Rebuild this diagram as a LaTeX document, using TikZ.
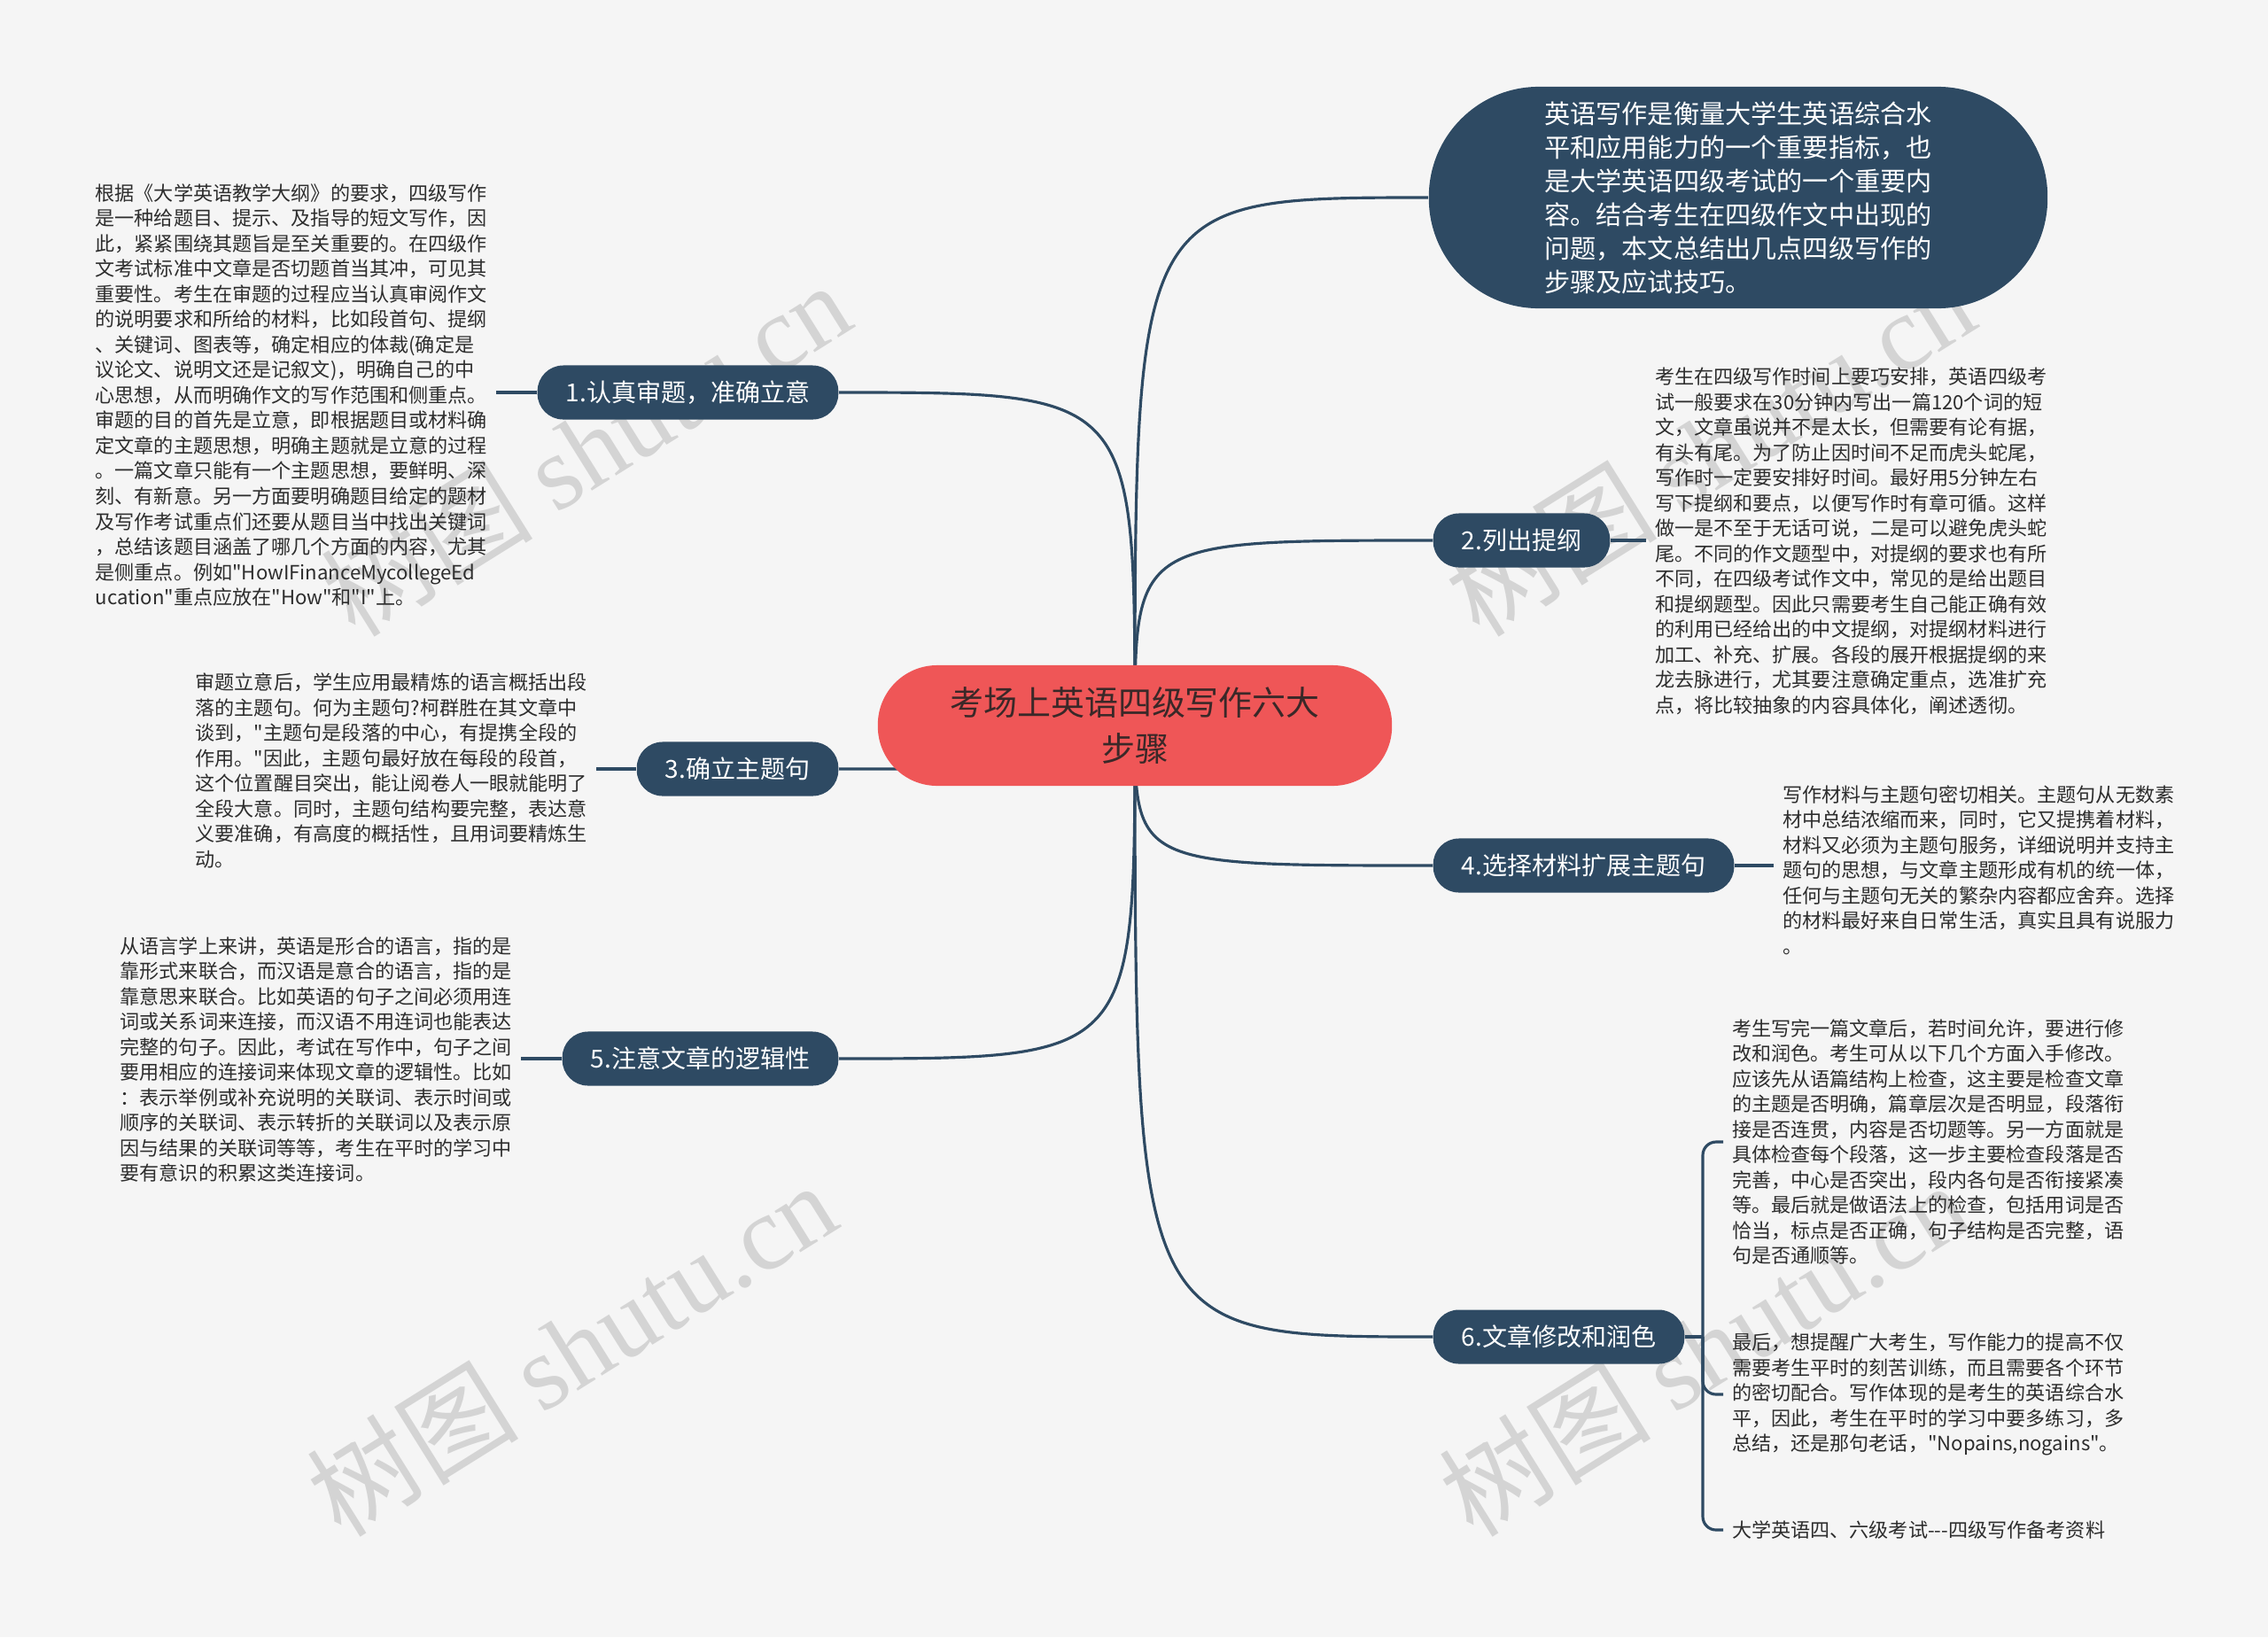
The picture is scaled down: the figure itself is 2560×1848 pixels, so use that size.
\documentclass[tikz,border=0pt]{standalone}
\usepackage{fontspec}
\setmainfont{Noto Sans CJK SC}
\newfontfamily\cjkfont{Noto Sans CJK SC}
\newfontfamily\markfont{Liberation Serif}
\usetikzlibrary{positioning, backgrounds}
\definecolor{BgColor}{RGB}{245, 245, 245}
\definecolor{TopicColor}{RGB}{46, 74, 99}
\definecolor{RootColor}{RGB}{239, 86, 87}
\definecolor{RootText}{RGB}{58, 40, 40}
\definecolor{NoteText}{RGB}{45, 45, 45}
\definecolor{MarkColor}{RGB}{212, 212, 212}
\tikzset{
    root/.style={
        fill=RootColor,
        text=RootText,
        rounded corners=6.7mm,
        minimum width=5.8cm,
        minimum height=1.36cm,
        align=center,
        font=\cjkfont\fontsize{10.8pt}{14.8pt}\selectfont
    },
    intro/.style={
        fill=TopicColor,
        text=white,
        rounded corners=12.4mm,
        minimum width=6.98cm,
        minimum height=2.5cm,
        align=left,
        font=\cjkfont\fontsize{8.3pt}{10.8pt}\selectfont
    },
    topic/.style={
        fill=TopicColor,
        text=white,
        rounded corners=2.9mm,
        minimum height=0.61cm,
        inner xsep=3.2mm,
        font=\cjkfont\fontsize{7.97pt}{9pt}\selectfont
    },
    note/.style={
        text=NoteText,
        align=left,
        inner sep=0pt,
        outer xsep=1mm,
        font=\cjkfont\fontsize{6.29pt}{8.11pt}\selectfont
    },
    link/.style={
        draw=TopicColor,
        line width=0.9pt
    },
    wmark/.style={
        text=MarkColor,
        rotate=32,
        font=\cjkfont\fontsize{34pt}{34pt}\selectfont
    }
}

\begin{document}
\begin{tikzpicture}[x=0.01cm, y=-0.01cm]

    \useasboundingbox (0,0) rectangle (2560,1848);

    % ============================================================================
    % CENTRE AND MAIN TOPICS
    % ============================================================================

    \node[root] (root) at (1281,819) {考场上英语四级写作六大\\步骤};

    % Intro bubble
    \node[intro] (intro) at (1962,223) {
        英语写作是衡量大学生英语综合水\\
        平和应用能力的一个重要指标，也\\
        是大学英语四级考试的一个重要内\\
        容。结合考生在四级作文中出现的\\
        问题，本文总结出几点四级写作的\\
        步骤及应试技巧。
    };

    % Left side
    \node[topic, anchor=east] (p1) at (947,443) {1.认真审题，准确立意};
    \node[topic, anchor=east] (p3) at (947,868) {3.确立主题句};
    \node[topic, anchor=east] (p5) at (947,1195) {5.注意文章的逻辑性};

    % Right side
    \node[topic, anchor=west] (p2) at (1617,610) {2.列出提纲};
    \node[topic, anchor=west] (p4) at (1617,977) {4.选择材料扩展主题句};
    \node[topic, anchor=west] (p6) at (1617,1509) {6.文章修改和润色};

    % ============================================================================
    % NOTES
    % ============================================================================

    \node[note, anchor=east] (t1) at (560,446) {
        根据《大学英语教学大纲》的要求，四级写作\\
        是一种给题目、提示、及指导的短文写作，因\\
        此，紧紧围绕其题旨是至关重要的。在四级作\\
        文考试标准中文章是否切题首当其冲，可见其\\
        重要性。考生在审题的过程应当认真审阅作文\\
        的说明要求和所给的材料，比如段首句、提纲\\
        、关键词、图表等，确定相应的体裁(确定是\\
        议论文、说明文还是记叙文)，明确自己的中\\
        心思想，从而明确作文的写作范围和侧重点。\\
        审题的目的首先是立意，即根据题目或材料确\\
        定文章的主题思想，明确主题就是立意的过程\\
        。一篇文章只能有一个主题思想，要鲜明、深\\
        刻、有新意。另一方面要明确题目给定的题材\\
        及写作考试重点们还要从题目当中找出关键词\\
        ，总结该题目涵盖了哪几个方面的内容，尤其\\
        是侧重点。例如"HowIFinanceMycollegeEd\\
        ucation"重点应放在"How"和"I"上。
    };

    \node[note, anchor=west] (t2) at (1858,611) {
        考生在四级写作时间上要巧安排，英语四级考\\
        试一般要求在30分钟内写出一篇120个词的短\\
        文，文章虽说并不是太长，但需要有论有据，\\
        有头有尾。为了防止因时间不足而虎头蛇尾，\\
        写作时一定要安排好时间。最好用5分钟左右\\
        写下提纲和要点，以便写作时有章可循。这样\\
        做一是不至于无话可说，二是可以避免虎头蛇\\
        尾。不同的作文题型中，对提纲的要求也有所\\
        不同，在四级考试作文中，常见的是给出题目\\
        和提纲题型。因此只需要考生自己能正确有效\\
        的利用已经给出的中文提纲，对提纲材料进行\\
        加工、补充、扩展。各段的展开根据提纲的来\\
        龙去脉进行，尤其要注意确定重点，选准扩充\\
        点，将比较抽象的内容具体化，阐述透彻。
    };

    \node[note, anchor=east] (t3) at (673,870) {
        审题立意后，学生应用最精炼的语言概括出段\\
        落的主题句。何为主题句?柯群胜在其文章中\\
        谈到，"主题句是段落的中心，有提携全段的\\
        作用。"因此，主题句最好放在每段的段首，\\
        这个位置醒目突出，能让阅卷人一眼就能明了\\
        全段大意。同时，主题句结构要完整，表达意\\
        义要准确，有高度的概括性，且用词要精炼生\\
        动。
    };

    \node[note, anchor=west] (t4) at (2002,982) {
        写作材料与主题句密切相关。主题句从无数素\\
        材中总结浓缩而来，同时，它又提携着材料，\\
        材料又必须为主题句服务，详细说明并支持主\\
        题句的思想，与文章主题形成有机的统一体，\\
        任何与主题句无关的繁杂内容都应舍弃。选择\\
        的材料最好来自日常生活，真实且具有说服力\\
        。
    };

    \node[note, anchor=east] (t5) at (588,1196) {
        从语言学上来讲，英语是形合的语言，指的是\\
        靠形式来联合，而汉语是意合的语言，指的是\\
        靠意思来联合。比如英语的句子之间必须用连\\
        词或关系词来连接，而汉语不用连词也能表达\\
        完整的句子。因此，考试在写作中，句子之间\\
        要用相应的连接词来体现文章的逻辑性。比如\\
        ：表示举例或补充说明的关联词、表示时间或\\
        顺序的关联词、表示转折的关联词以及表示原\\
        因与结果的关联词等等，考生在平时的学习中\\
        要有意识的积累这类连接词。
    };

    % Three notes under topic 6
    \node[note, anchor=west] (t6a) at (1945,1289) {
        考生写完一篇文章后，若时间允许，要进行修\\
        改和润色。考生可从以下几个方面入手修改。\\
        应该先从语篇结构上检查，这主要是检查文章\\
        的主题是否明确，篇章层次是否明显，段落衔\\
        接是否连贯，内容是否切题等。另一方面就是\\
        具体检查每个段落，这一步主要检查段落是否\\
        完善，中心是否突出，段内各句是否衔接紧凑\\
        等。最后就是做语法上的检查，包括用词是否\\
        恰当，标点是否正确，句子结构是否完整，语\\
        句是否通顺等。
    };

    \node[note, anchor=west] (t6b) at (1945,1574) {
        最后，想提醒广大考生，写作能力的提高不仅\\
        需要考生平时的刻苦训练，而且需要各个环节\\
        的密切配合。写作体现的是考生的英语综合水\\
        平，因此，考生在平时的学习中要多练习，多\\
        总结，还是那句老话，"Nopains,nogains"。
    };

    \node[note, anchor=west] (t6c) at (1945,1727) {大学英语四、六级考试---四级写作备考资料};

    \coordinate[right=0.2cm of p6] (fork);

    % ============================================================================
    % BRANCHES
    % ============================================================================

    \begin{pgfonlayer}{background}
        \fill[BgColor] (0,0) rectangle (2560,1848);

        % Watermarks
        \node[wmark] (w1) at (661,506) {树图 {\markfont shutu.cn}};
        \node[wmark] (w2) at (1930,506) {树图 {\markfont shutu.cn}};
        \node[wmark] (w3) at (645,1522) {树图 {\markfont shutu.cn}};
        \node[wmark] (w4) at (1923,1522) {树图 {\markfont shutu.cn}};

        % Centre to topics
        \draw[link] (root.center) .. controls (root.center |- intro.west) .. (intro.west);
        \draw[link] (root.center) .. controls (root.center |- p1.east) .. (p1.east);
        \draw[link] (root.center) .. controls (root.center |- p2.west) .. (p2.west);
        \draw[link] (root.center) .. controls (root.center |- p3.east) .. (p3.east);
        \draw[link] (root.center) .. controls (root.center |- p4.west) .. (p4.west);
        \draw[link] (root.center) .. controls (root.center |- p5.east) .. (p5.east);
        \draw[link] (root.center) .. controls (root.center |- p6.west) .. (p6.west);

        % Topics to notes
        \draw[link] (p1.west) -- (t1.east |- p1.west);
        \draw[link] (p2.east) -- (t2.west |- p2.east);
        \draw[link] (p3.west) -- (t3.east |- p3.west);
        \draw[link] (p4.east) -- (t4.west |- p4.east);
        \draw[link] (p5.west) -- (t5.east |- p5.west);

        % Fork under topic 6
        \draw[link] (p6.east) -- (fork);
        \draw[link, rounded corners=1.5mm] (fork) |- (t6a.west);
        \draw[link, rounded corners=1.5mm] (fork) |- (t6b.west);
        \draw[link, rounded corners=1.5mm] (fork) |- (t6c.west);
    \end{pgfonlayer}

\end{tikzpicture}
\end{document}
